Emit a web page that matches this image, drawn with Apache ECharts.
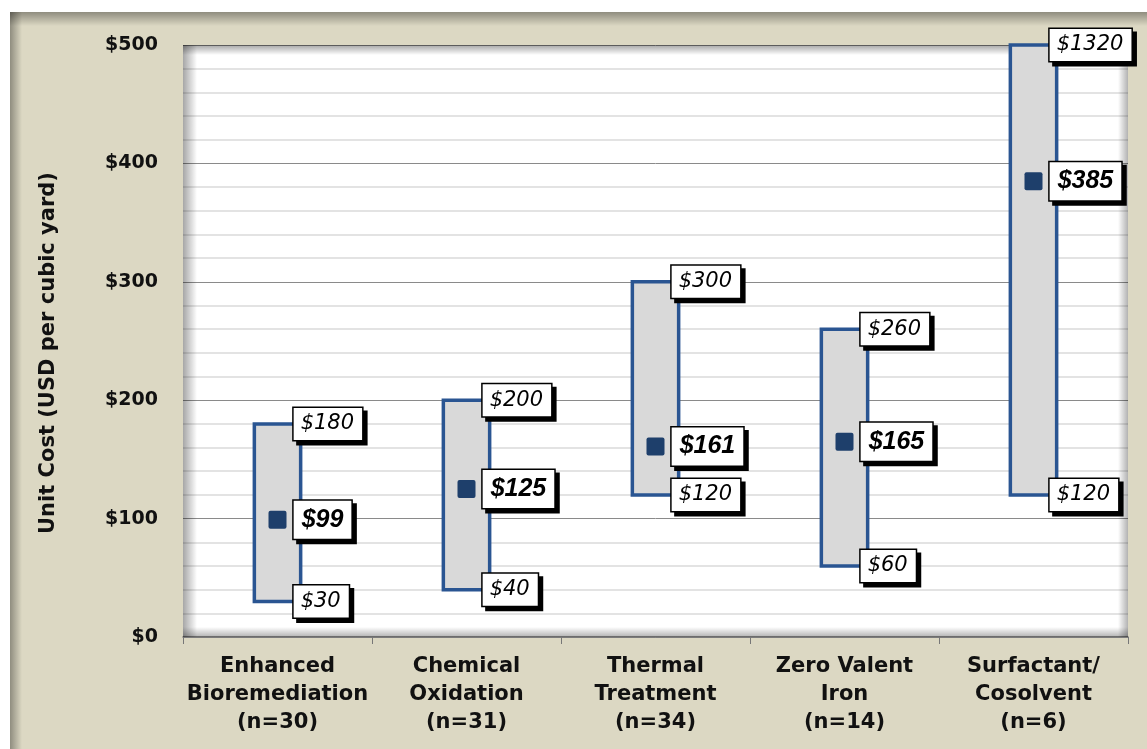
<!DOCTYPE html>
<html>
<head>
<meta charset="utf-8">
<title>Unit Cost by Technology</title>
<script src="https://cdn.jsdelivr.net/npm/echarts@6/dist/echarts.min.js"></script>
<style>
  html, body { margin: 0; padding: 0; background: #fff; }
  #chart { width: 1147px; height: 749px; }
</style>
</head>
<body>
<div id="chart"></div>
<script>
// categories and cost ranges (USD per cubic yard)
const categories = [
  'Enhanced\nBioremediation\n(n=30)',
  'Chemical\nOxidation\n(n=31)',
  'Thermal\nTreatment\n(n=34)',
  'Zero Valent\nIron\n(n=14)',
  'Surfactant/\nCosolvent\n(n=6)'
]
const lowCost = [30, 40, 120, 60, 120]
const highCost = [180, 200, 300, 260, 1320]
const medianCost = [99, 125, 161, 165, 385]
const yTicks = [0, 100, 200, 300, 400, 500]

const Y_MAX = yTicks[yTicks.length - 1]
const BLUE = '#2a5592'
const FONT = '"DejaVu Sans", Verdana, sans-serif'
const FONT_MEAN = '"Liberation Sans", Arial, sans-serif'

const chart = echarts.init(document.getElementById('chart'))

function tag(text, x, y, bold) {
  return {
    type: 'text',
    z2: 10,
    style: {
      text: text,
      x: x,
      y: y,
      align: 'left',
      verticalAlign: 'middle',
      fill: '#000',
      font: bold ? 'italic bold 25px ' + FONT_MEAN : 'italic 21px ' + FONT,
      backgroundColor: '#fff',
      borderColor: '#000',
      borderWidth: 1.5,
      padding: bold ? [7, 8, 6, 8] : [6, 8, 5, 7],
      shadowColor: '#000',
      shadowBlur: 0,
      shadowOffsetX: 4,
      shadowOffsetY: 4
    }
  }
}

function renderItem(params, api) {
  const i = api.value(0)
  const lo = api.value(1)
  const hi = api.value(2)
  const mid = api.value(3)
  const top = api.coord([i, Math.min(hi, Y_MAX)])
  const bot = api.coord([i, lo])
  const m = api.coord([i, mid])
  const w = api.size([1, 0])[0] * 0.245
  const x0 = top[0] - w / 2
  const x1 = top[0] + w / 2
  const lx = x1 - 7
  return {
    type: 'group',
    children: [
      {
        type: 'rect',
        shape: { x: x0, y: top[1], width: w, height: bot[1] - top[1] },
        style: { fill: '#d9d9d9', stroke: BLUE, lineWidth: 3.5 }
      },
      {
        type: 'rect',
        shape: { x: m[0] - 9, y: m[1] - 9, width: 18, height: 18, r: 2 },
        style: { fill: '#1e3f6b' }
      },
      tag('$' + hi, lx, top[1], false),
      tag('$' + lo, lx, bot[1], false),
      tag('$' + mid, lx, m[1], true)
    ]
  }
}

// plot area box: left 183, top 45, right 1128, bottom 637
const PL = 183, PT = 45, PR = 1128, PB = 637

function fade(x, y, w, h, dir) {
  const g = dir === 'h'
    ? new echarts.graphic.LinearGradient(0, 0, 1, 0, [
        { offset: 0, color: 'rgba(0,0,0,0.35)' }, { offset: 1, color: 'rgba(0,0,0,0)' }])
    : dir === 'v'
    ? new echarts.graphic.LinearGradient(0, 0, 0, 1, [
        { offset: 0, color: 'rgba(0,0,0,0.35)' }, { offset: 1, color: 'rgba(0,0,0,0)' }])
    : dir === 'hr'
    ? new echarts.graphic.LinearGradient(0, 0, 1, 0, [
        { offset: 0, color: 'rgba(0,0,0,0)' }, { offset: 1, color: 'rgba(0,0,0,0.3)' }])
    : new echarts.graphic.LinearGradient(0, 0, 0, 1, [
        { offset: 0, color: 'rgba(0,0,0,0)' }, { offset: 1, color: 'rgba(0,0,0,0.3)' }])
  return { type: 'rect', silent: true, shape: { x: x, y: y, width: w, height: h }, style: { fill: g } }
}

const option = {
  backgroundColor: '#fff',
  animation: false,
  graphic: [
    // beige outer frame
    { type: 'rect', z: -10, silent: true, shape: { x: 10, y: 12, width: 1150, height: 760 }, style: { fill: '#dcd8c3' } },
    Object.assign(fade(10, 12, 1150, 14, 'v'), { z: -9 }),
    Object.assign(fade(10, 12, 12, 760, 'h'), { z: -9 }),
    // white plot background
    { type: 'rect', z: -8, silent: true, shape: { x: PL, y: PT, width: PR - PL, height: PB - PT }, style: { fill: '#fff' } },
    Object.assign(fade(PL, PT, 14, PB - PT, 'h'), { z: 1 }),
    Object.assign(fade(PL, PT, PR - PL, 10, 'v'), { z: 1 }),
    Object.assign(fade(PR - 10, PT, 10, PB - PT, 'hr'), { z: 1 }),
    Object.assign(fade(PL, PB - 10, PR - PL, 10, 'vb'), { z: 1 })
  ],
  grid: { left: PL, right: 1147 - PR, top: PT, bottom: 749 - PB },
  xAxis: {
    type: 'category',
    data: categories,
    boundaryGap: true,
    axisLine: { lineStyle: { color: '#777', width: 1.5 } },
    axisTick: { show: true, interval: 0, length: 7, lineStyle: { color: '#777' } },
    axisLabel: {
      interval: 0,
      margin: 16,
      color: '#111',
      fontFamily: FONT,
      fontWeight: 'bold',
      fontSize: 21,
      lineHeight: 28
    },
    splitLine: { show: false }
  },
  yAxis: {
    type: 'value',
    min: 0,
    max: Y_MAX,
    interval: 100,
    name: 'Unit Cost (USD per cubic yard)',
    nameLocation: 'middle',
    nameGap: 124,
    nameTextStyle: { color: '#111', fontFamily: FONT, fontWeight: 'bold', fontSize: 21, padding: [0, 0, 0, -24] },
    axisLine: { show: false },
    axisTick: { show: false },
    axisLabel: {
      margin: 25,
      color: '#111',
      fontFamily: FONT,
      fontWeight: 'bold',
      fontSize: 19,
      formatter: v => '$' + v
    },
    splitLine: { show: true, lineStyle: { color: '#8a8a8a', width: 1 } },
    minorTick: { show: false, splitNumber: 5 },
    minorSplitLine: { show: true, lineStyle: { color: '#dadada', width: 1.5 } }
  },
  series: [
    {
      type: 'custom',
      clip: false,
      renderItem: renderItem,
      encode: { x: 0, y: [1, 2, 3] },
      data: categories.map((c, i) => [i, lowCost[i], highCost[i], medianCost[i]]),
      z: 5
    }
  ]
}

chart.setOption(option)
</script>
</body>
</html>
